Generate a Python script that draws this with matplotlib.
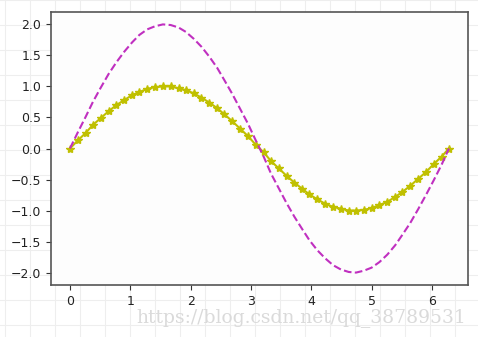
import matplotlib
matplotlib.use("Agg")
import matplotlib.pyplot as plt
from matplotlib.lines import Line2D

x_vals = [
    0.00, 0.13, 0.26, 0.38, 0.51, 0.64, 0.77, 0.90, 1.03, 1.15,
    1.28, 1.41, 1.54, 1.67, 1.80, 1.92, 2.05, 2.18, 2.31, 2.44,
    2.56, 2.69, 2.82, 2.95, 3.08, 3.21, 3.33, 3.46, 3.59, 3.72,
    3.85, 3.97, 4.10, 4.23, 4.36, 4.49, 4.62, 4.74, 4.87, 5.00,
    5.13, 5.26, 5.39, 5.51, 5.64, 5.77, 5.90, 6.03, 6.16, 6.28,
]
star_vals = [
    0.00, 0.13, 0.25, 0.38, 0.49, 0.60, 0.70, 0.78, 0.86, 0.91,
    0.96, 0.99, 1.00, 1.00, 0.97, 0.94, 0.89, 0.82, 0.74, 0.65,
    0.55, 0.44, 0.32, 0.20, 0.06, -0.06, -0.20, -0.32, -0.44, -0.55,
    -0.65, -0.74, -0.82, -0.89, -0.94, -0.97, -1.00, -1.00, -0.99, -0.96,
    -0.91, -0.86, -0.78, -0.70, -0.60, -0.49, -0.38, -0.25, -0.13, 0.00,
]
dash_vals = [
    0.00, 0.26, 0.51, 0.75, 0.98, 1.20, 1.39, 1.56, 1.71, 1.83,
    1.92, 1.97, 2.00, 1.99, 1.95, 1.88, 1.77, 1.64, 1.48, 1.30,
    1.10, 0.88, 0.64, 0.40, 0.13, -0.13, -0.40, -0.64, -0.88, -1.10,
    -1.30, -1.48, -1.64, -1.77, -1.88, -1.95, -1.99, -2.00, -1.97, -1.92,
    -1.83, -1.71, -1.56, -1.39, -1.20, -0.98, -0.75, -0.51, -0.26, 0.00,
]
y_ticks = [-2.0, -1.5, -1.0, -0.5, 0.0, 0.5, 1.0, 1.5, 2.0]
x_ticks = [0, 1, 2, 3, 4, 5, 6]

W, H = 478, 337
fig = plt.figure(figsize=(W / 100, H / 100), dpi=100)
fig.patch.set_facecolor("white")

# faint page grid behind the figure
for px in range(5, W, 25):
    fig.add_artist(Line2D([px / W, px / W], [0, 1], color="#eeeeee", lw=0.8, zorder=0))
for py in range(0, H, 25):
    fig.add_artist(Line2D([0, 1], [1 - py / H, 1 - py / H], color="#eeeeee", lw=0.8, zorder=0))

ax = fig.add_axes([51 / W, (H - 285) / H, (468 - 51) / W, (285 - 12) / H])
ax.set_facecolor("#fdfdfd")

ax.plot(x_vals, star_vals, "*-", color="#c0c000", markersize=6)
ax.plot(x_vals, dash_vals, "--", color="#c030c0", lw=1.5)

ax.set_xlim(-0.314, 6.597)
ax.set_ylim(-2.2, 2.2)
ax.set_xticks(x_ticks)
ax.set_yticks(y_ticks)
ax.set_yticklabels([f"{v:.1f}".replace("-", "\u2212") for v in y_ticks])
ax.tick_params(labelsize=9, length=3.5, color="#333333", labelcolor="#222222")
for sp in ax.spines.values():
    sp.set_color("#555555")
    sp.set_linewidth(1.2)

fig.text(466 / W, 1 - 318 / H, "https://blog.csdn.net/qq_38789531",
         ha="right", va="center", fontsize=13.5, color="#dadada",
         family="DejaVu Serif")

fig.savefig("out.png", dpi=100)
